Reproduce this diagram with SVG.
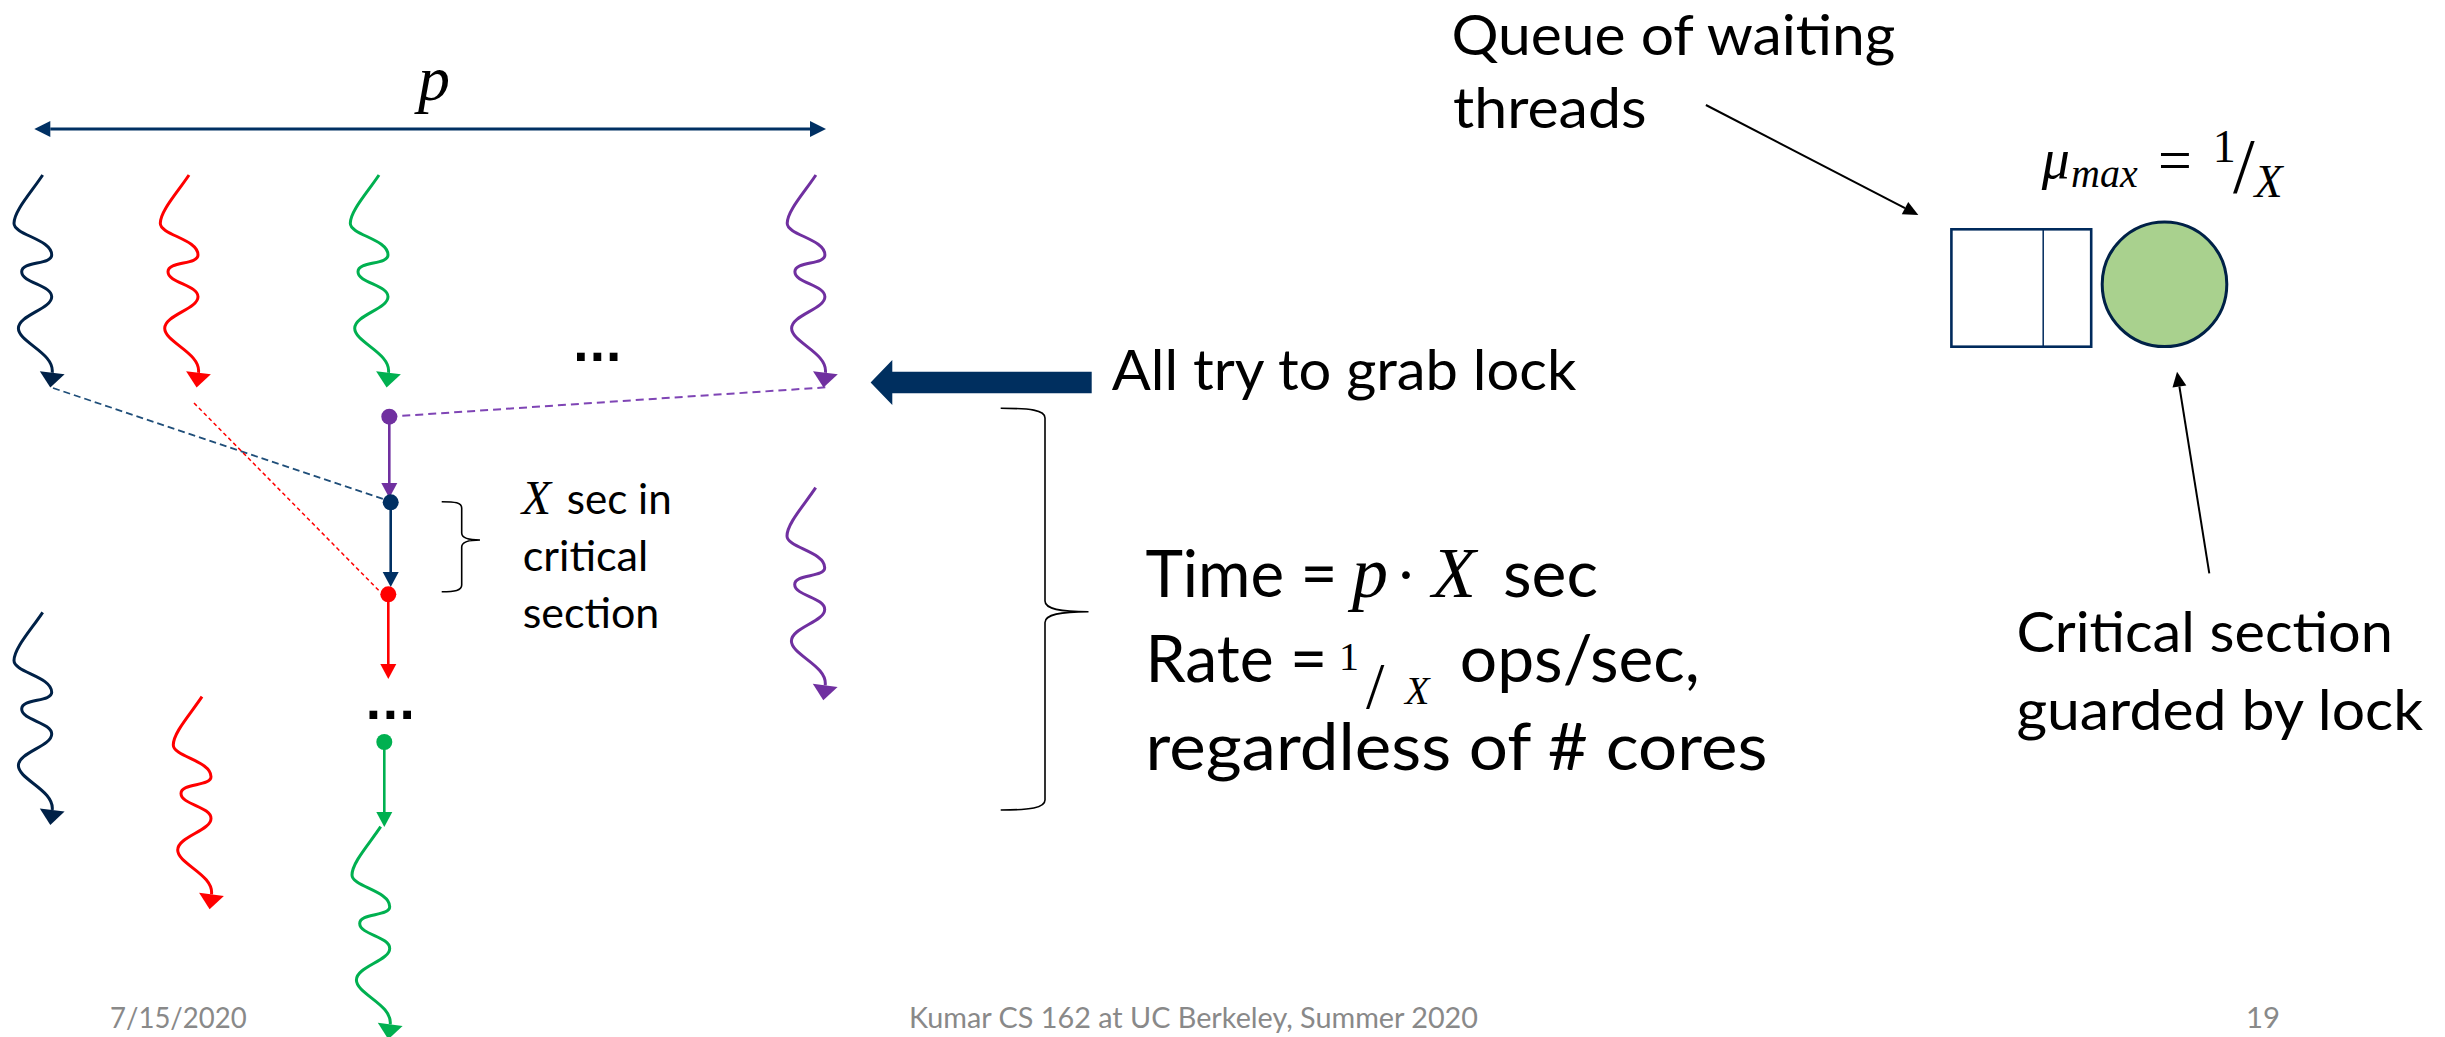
<svg xmlns="http://www.w3.org/2000/svg" xmlns:xlink="http://www.w3.org/1999/xlink" width="2445" height="1037" viewBox="0 0 2445 1037">
<style>
.t{font-family:Lato,"Open Sans","Liberation Sans",sans-serif;fill:#000}
.m{font-family:"Liberation Serif","DejaVu Serif",serif;font-style:italic;fill:#000}
.r{font-family:"Liberation Serif","DejaVu Serif",serif;fill:#000}
.it{font-style:italic}
.up{font-style:normal}
.foot{font-family:Lato,"Liberation Sans",sans-serif;fill:#898989;font-size:28.4px}
.dots{font-family:"Liberation Sans",sans-serif;font-weight:bold;fill:#000}
.sqn{stroke:#002147;marker-end:url(#hNavy)}
.sqr{stroke:#ff0000;marker-end:url(#hRed)}
.sqg{stroke:#00b050;marker-end:url(#hGreen)}
.sqp{stroke:#7030a0;marker-end:url(#hPurple)}
.wire{fill:none;stroke-width:2.6}
.brace{fill:none;stroke:#000;stroke-width:1.6}
.ptr{stroke:#000;stroke-width:2;fill:none;marker-end:url(#hBlack)}
</style>
<defs>
<path id="sq" fill="none" stroke-width="3" d="M0,0 C-12,18 -28.7,36 -28.7,48.3 C-28.7,60 9,64 9,80 C9,90 -21,86 -21,96.7 C-21,108 9,110 9,121.7 C9,134 -24.3,140 -24.3,153.3 C-24.3,167.3 12,178 9.5,197.7"/>
<marker id="hNavy" markerUnits="userSpaceOnUse" markerWidth="15" markerHeight="25" viewBox="0 0 15 25" refX="0" refY="12.5" orient="auto" overflow="visible"><path d="M0,0 L15,12.5 L0,25 z" fill="#002147"/></marker>
<marker id="hRed" markerUnits="userSpaceOnUse" markerWidth="15" markerHeight="25" viewBox="0 0 15 25" refX="0" refY="12.5" orient="auto" overflow="visible"><path d="M0,0 L15,12.5 L0,25 z" fill="#ff0000"/></marker>
<marker id="hGreen" markerUnits="userSpaceOnUse" markerWidth="15" markerHeight="25" viewBox="0 0 15 25" refX="0" refY="12.5" orient="auto" overflow="visible"><path d="M0,0 L15,12.5 L0,25 z" fill="#00b050"/></marker>
<marker id="hPurple" markerUnits="userSpaceOnUse" markerWidth="15" markerHeight="25" viewBox="0 0 15 25" refX="0" refY="12.5" orient="auto" overflow="visible"><path d="M0,0 L15,12.5 L0,25 z" fill="#7030a0"/></marker>
<marker id="vNavy" markerUnits="userSpaceOnUse" markerWidth="15" markerHeight="16" viewBox="0 0 15 16" refX="0" refY="8" orient="auto" overflow="visible"><path d="M0,0 L15,8 L0,16 z" fill="#003063"/></marker>
<marker id="vRed" markerUnits="userSpaceOnUse" markerWidth="15" markerHeight="16" viewBox="0 0 15 16" refX="0" refY="8" orient="auto" overflow="visible"><path d="M0,0 L15,8 L0,16 z" fill="#ff0000"/></marker>
<marker id="vGreen" markerUnits="userSpaceOnUse" markerWidth="15" markerHeight="16" viewBox="0 0 15 16" refX="0" refY="8" orient="auto" overflow="visible"><path d="M0,0 L15,8 L0,16 z" fill="#00b050"/></marker>
<marker id="vPurple" markerUnits="userSpaceOnUse" markerWidth="15" markerHeight="16" viewBox="0 0 15 16" refX="0" refY="8" orient="auto" overflow="visible"><path d="M0,0 L15,8 L0,16 z" fill="#7030a0"/></marker>
<marker id="pHead" markerUnits="userSpaceOnUse" markerWidth="16" markerHeight="16" viewBox="0 0 16 16" refX="0" refY="8" orient="auto-start-reverse" overflow="visible"><path d="M0,0 L16,8 L0,16 z" fill="#003063"/></marker>
<marker id="hBlack" markerUnits="userSpaceOnUse" markerWidth="15" markerHeight="14" viewBox="0 0 15 14" refX="0" refY="7" orient="auto" overflow="visible"><path d="M0,0 L15,7 L0,14 z" fill="#000"/></marker>
</defs>
<rect width="2445" height="1037" fill="#fff"/>

<g id="connectors">
  <line x1="50.3" y1="129" x2="810" y2="129" stroke="#003063" stroke-width="3" marker-start="url(#pHead)" marker-end="url(#pHead)"/>
  <line x1="53" y1="388" x2="383" y2="499" stroke="#1f4e79" stroke-width="1.8" stroke-dasharray="7 4"/>
  <line x1="194" y1="403" x2="380" y2="591.7" stroke="#ff0000" stroke-width="1.5" stroke-dasharray="4 3"/>
  <line x1="389.3" y1="416.7" x2="826" y2="387.3" stroke="#7f45b5" stroke-width="2" stroke-dasharray="8 5"/>
  <line class="wire" x1="389.3" y1="416.7" x2="389.3" y2="483" stroke="#7030a0" marker-end="url(#vPurple)"/>
  <line class="wire" x1="390.7" y1="502.3" x2="390.7" y2="572" stroke="#003063" marker-end="url(#vNavy)"/>
  <line class="wire" x1="388.3" y1="594.3" x2="388.3" y2="664" stroke="#ff0000" marker-end="url(#vRed)"/>
  <line class="wire" x1="384.3" y1="742" x2="384.3" y2="812" stroke="#00b050" marker-end="url(#vGreen)"/>
  <line class="ptr" x1="1705.9" y1="105" x2="1905" y2="208.1"/>
  <line class="ptr" x1="2209.3" y1="573.3" x2="2179.4" y2="386.5"/>
  <polygon id="grab-arrow" points="870.6,382.5 892.3,360 892.3,371.7 1091.7,371.7 1091.7,393.3 892.3,393.3 892.3,405" fill="#002f5f"/>
</g>

<g id="threads">
  <use href="#sq" x="42.7" y="175" class="sqn"/>
  <use href="#sq" x="189" y="175" class="sqr"/>
  <use href="#sq" x="379" y="175" class="sqg"/>
  <use href="#sq" x="815.9" y="175" class="sqp"/>
  <use href="#sq" x="815.7" y="487.7" class="sqp"/>
  <use href="#sq" x="42.7" y="612.3" class="sqn"/>
  <use href="#sq" x="202" y="696.7" class="sqr"/>
  <use href="#sq" x="380.7" y="826.7" class="sqg"/>
</g>

<g id="node-purple"><circle cx="389.3" cy="416.7" r="8" fill="#7030a0"/></g>
<g id="node-navy"><circle cx="390.7" cy="502.3" r="8" fill="#003063"/></g>
<g id="node-red"><circle cx="388.3" cy="594.3" r="8" fill="#ff0000"/></g>
<g id="node-green"><circle cx="384.3" cy="742" r="8" fill="#00b050"/></g>

<g id="label-p"><text class="m" x="418" y="100" font-size="64">p</text></g>
<g id="ellipsis-top"><text class="dots" x="573.3" y="360.5" font-size="55" textLength="48" lengthAdjust="spacing">...</text></g>
<g id="ellipsis-bottom"><text class="dots" x="365.8" y="719" font-size="55" textLength="49" lengthAdjust="spacing">...</text></g>

<g id="brace-small">
  <path class="brace" d="M441.7,501.7 C455,501.7 461.7,502.5 461.7,508 L461.7,533 C461.7,538 468,540 480,540 C468,540 461.7,542 461.7,547 L461.7,585 C461.7,590.5 455,591.7 441.7,591.7"/>
</g>
<g id="label-critical">
  <text class="m" x="521.7" y="514.3" font-size="48">X</text>
  <text class="t" x="566.7" y="514.3" font-size="42" textLength="105" lengthAdjust="spacingAndGlyphs">sec in</text>
  <text class="t" x="522.7" y="571" font-size="42" textLength="125.6" lengthAdjust="spacingAndGlyphs">critical</text>
  <text class="t" x="522.7" y="628.3" font-size="42" textLength="136.6" lengthAdjust="spacingAndGlyphs">section</text>
</g>

<g id="label-grab">
  <text class="t" x="1111.8" y="390" font-size="56.7" textLength="464.5" lengthAdjust="spacingAndGlyphs">All try to grab lock</text>
</g>

<g id="brace-big">
  <path class="brace" d="M1000.7,408.3 C1030,408.3 1045,410 1045,418 L1045,601 C1045,609 1060,611.7 1088.5,611.7 C1060,611.7 1045,614.5 1045,622.5 L1045,800 C1045,808 1030,810 1000.7,810"/>
</g>

<g id="label-time">
  <text class="t" x="1145.4" y="597" font-size="66" textLength="192" lengthAdjust="spacingAndGlyphs">Time =</text>
  <text class="r" y="597" font-size="72"><tspan class="it" x="1352">p</tspan><tspan x="1395" font-size="66">·</tspan><tspan class="it" x="1432">X</tspan></text>
  <text class="t" x="1503" y="597" font-size="66">sec</text>

  <text class="t" x="1145.4" y="682" font-size="66" textLength="182" lengthAdjust="spacingAndGlyphs">Rate =</text>
  <text class="r" font-size="40"><tspan x="1339" y="670">1</tspan><tspan x="1366" y="708" font-size="66">/</tspan><tspan class="it" x="1405" y="704">X</tspan></text>
  <text class="t" x="1459.8" y="682" font-size="66" textLength="240" lengthAdjust="spacingAndGlyphs">ops/sec,</text>

  <text class="t" x="1145.4" y="770" font-size="66" textLength="622" lengthAdjust="spacingAndGlyphs">regardless of # cores</text>
</g>

<g id="label-queue">
  <text class="t" x="1451.4" y="55" font-size="57" textLength="444" lengthAdjust="spacingAndGlyphs">Queue of waiting</text>
  <text class="t" x="1453" y="128.3" font-size="57" textLength="193.6" lengthAdjust="spacingAndGlyphs">threads</text>
</g>

<g id="label-mu">
  <text class="r" font-size="56"><tspan class="it" x="2041.8" y="178">μ</tspan><tspan class="it" x="2071" y="187" font-size="40">max</tspan><tspan x="2158" y="180" font-size="60">=</tspan><tspan x="2212.8" y="161.7" font-size="46">1</tspan><tspan x="2233" y="191.7" font-size="78">/</tspan><tspan class="it" x="2254.5" y="196.7" font-size="46">X</tspan></text>
</g>

<g id="queue">
  <rect x="1951.4" y="229.3" width="139.8" height="117.4" fill="#fff" stroke="#002a5c" stroke-width="2.6"/>
  <line x1="2043.2" y1="229.3" x2="2043.2" y2="346.7" stroke="#002a5c" stroke-width="1.5"/>
</g>
<g id="server">
  <circle cx="2164.5" cy="284.3" r="62.3" fill="#a9d18e" stroke="#002147" stroke-width="3"/>
</g>

<g id="label-cs">
  <text class="t" x="2016.4" y="651.7" font-size="57" textLength="376.5" lengthAdjust="spacingAndGlyphs">Critical section</text>
  <text class="t" x="2016.4" y="730" font-size="57" textLength="406.7" lengthAdjust="spacingAndGlyphs">guarded by lock</text>
</g>

<g id="footer">
  <text class="foot" x="110" y="1028" textLength="136.7" lengthAdjust="spacingAndGlyphs">7/15/2020</text>
  <text class="foot" x="909" y="1028" textLength="569" lengthAdjust="spacingAndGlyphs">Kumar CS 162 at UC Berkeley, Summer 2020</text>
  <text class="foot" x="2246" y="1028" textLength="34" lengthAdjust="spacingAndGlyphs">19</text>
</g>
</svg>
